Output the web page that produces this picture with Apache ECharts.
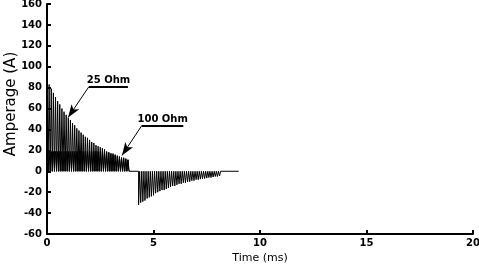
<!DOCTYPE html>
<html>
<head>
<meta charset="utf-8">
<script src="https://cdn.jsdelivr.net/npm/echarts@6/dist/echarts.min.js"></script>
<style>
  html, body { margin: 0; padding: 0; background: #fff; }
  #chart { width: 479px; height: 266px; }
</style>
</head>
<body>
<div id="chart"></div>
<script>
// pulse start times (ms)
let posTimes = [0, 0.1, 0.2, 0.3, 0.4, 0.5, 0.6, 0.7, 0.8, 0.9, 1.0, 1.1, 1.2, 1.3, 1.4, 1.5, 1.6, 1.7, 1.8, 1.9,
  2.0, 2.1, 2.2, 2.3, 2.4, 2.5, 2.6, 2.7, 2.8, 2.9, 3.0, 3.1, 3.2, 3.3, 3.4, 3.5, 3.6, 3.7, 3.8]
let negTimes = [4.3, 4.4, 4.5, 4.6, 4.7, 4.8, 4.9, 5.0, 5.1, 5.2, 5.3, 5.4, 5.5, 5.6, 5.7, 5.8, 5.9, 6.0, 6.1, 6.2,
  6.3, 6.4, 6.5, 6.6, 6.7, 6.8, 6.9, 7.0, 7.1, 7.2, 7.3, 7.4, 7.5, 7.6, 7.7, 7.8, 7.9, 8.0, 8.1]
let endTime = 9.0

// pulse amplitudes (A)
let amp25Pos = [88, 83, 79, 75, 71, 67, 64, 60, 57, 54, 51, 49, 46, 44, 41, 39, 37, 35, 33, 32,
  30, 28, 27, 25, 24, 23, 22, 21, 19, 18, 17, 17, 16, 15, 14, 13, 13, 12, 11]
let amp100Pos = [19, 19, 19, 19, 19, 19, 19, 19, 19, 19, 19, 19, 19, 19, 19, 19, 19, 19, 19, 19,
  19, 19, 19, 19, 19, 19, 19, 19, 18, 18, 17, 16, 15, 14, 14, 13, 12, 12, 11]
let amp25Neg = [-32, -30, -29, -28, -26, -25, -24, -23, -21, -20, -19, -18, -18, -17, -16, -15, -14, -14, -13, -12,
  -12, -11, -11, -10, -10, -9, -9, -8, -8, -7.5, -7, -7, -6.5, -6, -6, -5.5, -5, -5, -4.5]

let xTicks = [0, 5, 10, 15, 20]
let yTicks = [-60, -40, -20, 0, 20, 40, 60, 80, 100, 120, 140, 160]

// annotations: [label, underline start, underline end, arrow tip]
let notes = [
  ['25 Ohm', [1.97, 81], [3.8, 81], [0.99, 51.4]],
  ['100 Ohm', [4.46, 44], [6.4, 44], [3.52, 15.2]]
]

let pulseWidth = 0.05

function pulses(times, amps, pts) {
  times.forEach(function (t, i) {
    pts.push([t, 0], [t, amps[i]], [t + pulseWidth, amps[i]], [t + pulseWidth, 0])
  })
  return pts
}

let data25 = pulses(negTimes, amp25Neg, pulses(posTimes, amp25Pos, []))
data25.push([endTime, 0])
let data100 = pulses(posTimes, amp100Pos, [])

let markData = []
notes.forEach(function (n) {
  markData.push([
    {coord: n[1], symbol: 'none', lineStyle: {width: 1}, label: {show: false}},
    {coord: n[3], symbol: 'arrow', symbolSize: [7, 13]}
  ])
  markData.push([
    {coord: n[1], symbol: 'none', lineStyle: {width: 2},
      label: {show: true, formatter: n[0], position: 'insideMiddleTop', distance: 1,
        color: '#000', fontFamily: 'DejaVu Sans', fontSize: 10, fontWeight: 'bold'}},
    {coord: n[2], symbol: 'none'}
  ])
})

let axisFont = {color: '#000', fontFamily: 'DejaVu Sans', fontSize: 10, fontWeight: 'bold'}

let option = {
  animation: false,
  backgroundColor: '#fff',
  grid: {left: 47, right: 6, top: 4, bottom: 32, outerBoundsMode: 'none', containLabel: false},
  xAxis: {
    type: 'value', min: xTicks[0], max: xTicks[xTicks.length - 1], interval: 5,
    name: 'Time (ms)', nameLocation: 'middle', nameGap: 19, nameMoveOverlap: false,
    nameTextStyle: {color: '#000', fontFamily: 'DejaVu Sans', fontSize: 11},
    axisLine: {onZero: false, lineStyle: {color: '#000', width: 2}},
    axisTick: {inside: true, length: 4, lineStyle: {color: '#000', width: 2}},
    axisLabel: Object.assign({margin: 4}, axisFont),
    splitLine: {show: false}
  },
  yAxis: {
    type: 'value', min: yTicks[0], max: yTicks[yTicks.length - 1], interval: 20,
    name: 'Amperage (A)', nameLocation: 'middle', nameGap: 28, nameMoveOverlap: false,
    nameTextStyle: {color: '#000', fontFamily: 'DejaVu Sans', fontSize: 15, padding: [0, 0, 0, 30]},
    axisLine: {show: true, onZero: false, lineStyle: {color: '#000', width: 2}},
    axisTick: {show: true, inside: true, length: 4, lineStyle: {color: '#000', width: 2}},
    axisLabel: Object.assign({margin: 5}, axisFont),
    splitLine: {show: false}
  },
  series: [
    {
      name: '25 Ohm', type: 'line', data: data25, showSymbol: false,
      lineStyle: {color: '#000', width: 1},
      markLine: {silent: true, animation: false, lineStyle: {color: '#000', type: 'solid'},
        data: markData}
    },
    {
      name: '100 Ohm', type: 'line', data: data100, showSymbol: false,
      lineStyle: {color: '#000', width: 1}
    }
  ]
}

let chart = echarts.init(document.getElementById('chart'))
chart.setOption(option)
</script>
</body>
</html>
